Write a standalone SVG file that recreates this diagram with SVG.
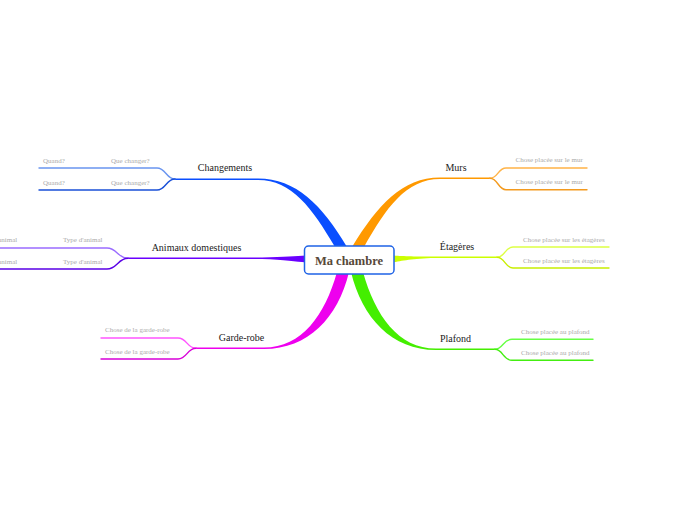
<svg xmlns="http://www.w3.org/2000/svg" width="697" height="520" viewBox="0 0 697 520">
<style>
.lbl{font-family:"Liberation Serif","Times New Roman",serif;font-size:10px;fill:#222}
.sub{font-family:"Liberation Serif","Times New Roman",serif;font-size:7px;fill:#aaa}
.ln{fill:none;stroke-width:1.4;stroke-linecap:round}
.ctr{font-family:"Liberation Serif","Times New Roman",serif;font-size:12.5px;font-weight:bold;fill:#564838}
</style>
<rect width="697" height="520" fill="#fff"/>
<g id="connectors">
  <!-- Changements (blue) -->
  <path d="M175,178.5 L258,178.5 C296,178.5 322,205 347,247 L335,247 C312,208 292,180 258,180 L175,180 Z" fill="#0a4eff"/>
  <path class="ln" stroke="#6a95f0" d="M175,179 C166,179 166,168 157,168 L39,168"/>
  <path class="ln" stroke="#1a50d8" d="M175,179 C166,179 166,190 157,190 L39,190"/>
  <!-- Animaux domestiques (purple) -->
  <path d="M128,257.6 L262,257.6 C285,257 296,256 306,255.5 L306,262.5 C296,261.5 285,259.8 262,259 L128,259 Z" fill="#6a00ff"/>
  <path class="ln" stroke="#9a6cff" d="M128,258.3 C118,258.3 117,248 107,248 L-30,248"/>
  <path class="ln" stroke="#5a00e6" d="M128,258.3 C118,258.3 117,269 107,269 L-30,269"/>
  <!-- Garde-robe (magenta) -->
  <path d="M196,347.6 L264,347.6 C302,347.6 325,315 337,272 L349,272 C338,318 308,349 264,349 L196,349 Z" fill="#ee00ee"/>
  <path class="ln" stroke="#ff55ff" d="M196,348.3 C187,348.3 187,338 178,338 L101,338"/>
  <path class="ln" stroke="#d800d8" d="M196,348.3 C187,348.3 187,359 178,359 L101,359"/>
  <!-- Murs (orange) -->
  <path d="M490,177.6 L440,177.6 C402,177.6 378,205 352,247 L364,247 C386,208 406,179 440,179 L490,179 Z" fill="#ff9900"/>
  <path class="ln" stroke="#ffb347" d="M490,178.3 C498,178.3 498,168 506,168 L587,168"/>
  <path class="ln" stroke="#f39a1e" d="M490,178.3 C498,178.3 498,189.7 506,189.7 L587,189.7"/>
  <!-- Étagères (yellow-green) -->
  <path d="M392,255.5 C402,256 412,256.6 435,256.6 L497,256.6 L497,258 L435,258 C412,258.4 402,261 392,262.5 Z" fill="#ccff00"/>
  <path class="ln" stroke="#ddff44" d="M497,257.3 C505,257.3 505,247 513,247 L609,247"/>
  <path class="ln" stroke="#c8ee00" d="M497,257.3 C505,257.3 505,268 513,268 L609,268"/>
  <!-- Plafond (green) -->
  <path d="M495,348.6 L436,348.6 C398,348.6 375,315 363,272 L351,272 C362,318 392,350 436,350 L495,350 Z" fill="#44ee00"/>
  <path class="ln" stroke="#66ff44" d="M495,349.3 C503,349.3 503,339.3 512,339.3 L593,339.3"/>
  <path class="ln" stroke="#44ee11" d="M495,349.3 C503,349.3 503,360.3 512,360.3 L593,360.3"/>
</g>
<g id="center">
  <rect x="304.5" y="246" width="89.5" height="28" rx="4" ry="4" fill="#fff" stroke="#1f63e6" stroke-width="1.5"/>
  <text class="ctr" x="349" y="265" text-anchor="middle">Ma chambre</text>
</g>
<g id="changements">
  <text class="lbl" x="225" y="171" text-anchor="middle">Changements</text>
  <text class="sub" x="111" y="162.5">Que changer?</text>
  <text class="sub" x="43" y="162.5">Quand?</text>
  <text class="sub" x="111" y="185">Que changer?</text>
  <text class="sub" x="43" y="185">Quand?</text>
</g>
<g id="animaux">
  <text class="lbl" x="196.5" y="250.7" text-anchor="middle">Animaux domestiques</text>
  <text class="sub" x="63" y="242.3">Type d'animal</text>
  <text class="sub" x="17.3" y="242.3" text-anchor="end">Type d'animal</text>
  <text class="sub" x="63" y="264.3">Type d'animal</text>
  <text class="sub" x="17.3" y="264.3" text-anchor="end">Type d'animal</text>
</g>
<g id="garde-robe">
  <text class="lbl" x="241.5" y="340.7" text-anchor="middle">Garde-robe</text>
  <text class="sub" x="105" y="332.3">Chose de la garde-robe</text>
  <text class="sub" x="105" y="354.3">Chose de la garde-robe</text>
</g>
<g id="murs">
  <text class="lbl" x="456" y="170.7" text-anchor="middle">Murs</text>
  <text class="sub" x="515.5" y="162.3">Chose placée sur le mur</text>
  <text class="sub" x="515.5" y="184.3">Chose placée sur le mur</text>
</g>
<g id="etageres">
  <text class="lbl" x="457" y="250" text-anchor="middle">Étagères</text>
  <text class="sub" x="523" y="241.7">Chose placée sur les étagères</text>
  <text class="sub" x="523" y="263.3">Chose placée sur les étagères</text>
</g>
<g id="plafond">
  <text class="lbl" x="455.5" y="341.7" text-anchor="middle">Plafond</text>
  <text class="sub" x="521" y="333.7">Chose placée au plafond</text>
  <text class="sub" x="521" y="355.3">Chose placée au plafond</text>
</g>
</svg>
